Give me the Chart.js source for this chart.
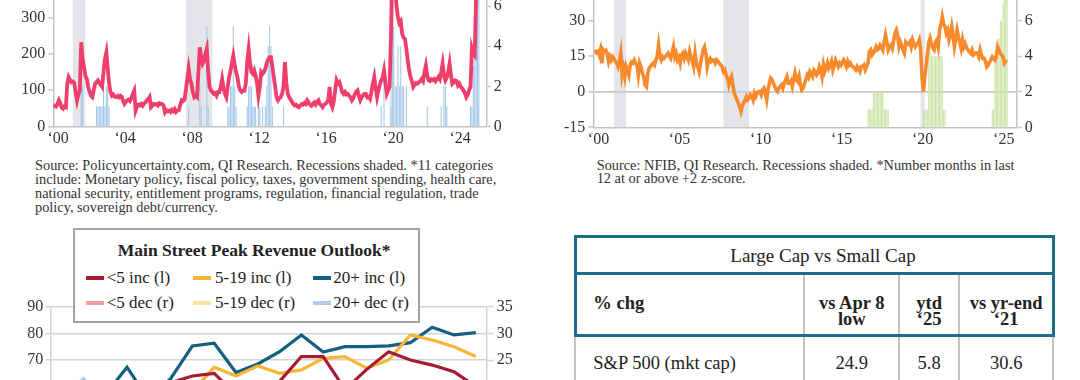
<!DOCTYPE html>
<html><head><meta charset="utf-8">
<script src="https://cdn.jsdelivr.net/npm/chart.js@4.4.1/dist/chart.umd.min.js"></script>
<style>
html,body{margin:0;padding:0;background:#fff;}
body{width:1080px;height:380px;overflow:hidden;position:relative;font-family:"Liberation Serif",serif;color:#262626;}
canvas{position:absolute;}
.t{position:absolute;white-space:nowrap;}
.note{font-size:13.5px;line-height:14px;color:#333;}
#legend{position:absolute;left:73px;top:228.3px;width:347.3px;height:94.4px;box-sizing:border-box;border:2px solid #a3a3a3;background:#fff;z-index:2;}
</style></head><body>
<canvas id="c1" width="540" height="150" style="left:0;top:0"></canvas>
<canvas id="c2" width="540" height="150" style="left:540px;top:0"></canvas>
<canvas id="c3" width="540" height="190" style="left:0;top:290px"></canvas>
<div id="notes"></div>
<div id="legend"></div>
<div id="table"></div>
<script>
// ---------------- DATA ----------------
// Policy uncertainty index, monthly from Jan 2000 (left axis)
const uncValues = [
 53,57,55,62,72,64,52,49,55,53,118,136,
 128,122,124,120,95,72,88,100,232,185,164,140,
 131,109,95,85,81,100,118,122,127,120,115,109,
 150,186,204,160,118,95,85,88,82,81,84,80,
 85,82,70,62,68,72,74,70,78,90,99,44,
 55,60,58,62,57,63,66,72,75,81,53,57,
 62,60,62,58,64,62,62,58,39,45,42,44,
 40,46,42,48,40,44,45,60,72,70,74,100,
 130,159,130,118,95,81,85,81,150,218,190,173,
 180,200,214,150,109,100,95,90,92,85,95,95,
 110,131,105,90,81,110,135,154,175,195,170,150,
 135,110,99,95,99,99,120,180,214,175,150,145,
 154,140,120,85,110,150,145,150,160,175,185,191,
 191,165,136,110,80,72,78,81,90,110,177,120,
 90,81,75,68,62,58,60,55,53,58,62,60,
 65,62,72,66,60,57,62,66,60,68,72,62,
 58,53,60,62,66,72,109,62,53,70,100,127,
 118,122,110,95,90,95,88,90,85,80,72,78,
 88,95,99,85,72,80,86,90,90,80,82,76,
 95,118,136,105,81,100,115,127,135,154,120,90,
 100,109,250,450,420,380,330,300,285,290,255,245,
 241,215,182,155,136,125,109,115,120,118,122,125,
 131,125,150,168,140,127,125,130,128,131,125,130,
 136,130,150,173,140,127,135,150,173,140,118,122,
 127,125,113,118,110,105,99,92,81,88,100,110,
 214,200,195,360,460,440
];
// Number of categories at or above +2 z-score (right axis)
const uncBarDates = ['2001-09','2001-10','2002-08','2002-09','2002-10','2002-11','2002-12','2003-01','2003-02','2003-03','2003-04','2003-05',
 '2008-02','2008-10','2008-11','2009-03','2009-04',
 '2010-06','2010-07','2010-08','2010-09','2010-10','2010-11','2010-12',
 '2011-08','2011-09','2011-10','2011-11','2011-12','2012-01','2012-02','2012-04','2012-05','2012-07','2012-09','2012-10','2012-11','2012-12','2013-01','2013-02','2013-10',
 '2019-08','2019-10',
 '2020-03','2020-04','2020-05','2020-06','2020-07','2020-08','2020-09','2020-10','2020-11','2020-12','2021-02',
 '2022-05','2023-03','2023-05','2023-06','2023-07',
 '2024-12','2025-01','2025-02','2025-03','2025-04','2025-05','2025-06'];
const uncBarValues = [3,2,1,1,1,1,1,2,1,2,2,1,
 1,2,1,5,1,
 1,1,2,2,5,2,1,
 1,2,2,2,1,1,1,1,1,1,1,2,4,5,4,1,1,
 1,3,
 1,7,5,2,2,4,2,4,2,2,2,
 1,1,2,2,1,
 1,1,3,7,8,9,10];

// NFIB series, monthly from Jan 2000 (left axis)
const nfibValues = [
 17.7,16.5,17.0,15.5,17.7,12.0,17.7,17.0,17.5,16.0,12.8,14.8,
 13.4,14.8,14.0,12.8,12.1,10.6,12.8,16.3,7.1,9.9,6.4,10.6,
 9.0,7.1,11.3,12.5,12.1,13.4,12.0,11.3,7.1,12.1,10.6,8.0,
 6.4,2.9,2.2,7.8,9.9,10.6,11.5,12.1,11.3,13.4,15.0,19.7,
 15.0,13.4,14.8,14.1,14.8,15.5,16.3,15.0,14.1,16.5,19.0,14.8,
 16.3,13.4,14.5,12.1,15.5,16.3,14.1,16.3,14.8,13.4,17.0,14.8,
 13.0,10.6,16.3,12.1,10.6,8.5,12.0,14.8,17.7,19.0,16.3,10.6,
 13.4,14.1,12.8,13.4,13.4,12.1,13.4,12.8,12.0,11.3,10.6,8.5,
 9.2,7.0,5.7,2.9,5.0,6.4,2.9,-0.5,-2.0,-3.4,-4.8,-6.2,
 -8.3,-6.0,-4.8,-3.4,-2.0,-3.4,-2.7,-1.3,-1.8,-3.4,-0.6,-2.0,
 -0.6,0.1,0.1,-1.3,0.8,1.5,-0.6,-3.4,0.8,3.5,5.7,5.0,
 3.6,2.2,0.8,0.1,1.5,2.2,2.9,1.5,3.5,5.0,6.4,3.6,
 3.6,4.5,2.2,5.0,7.8,5.0,4.3,6.4,2.9,0.8,1.5,3.6,
 5.0,7.0,6.0,8.5,7.5,6.4,9.2,8.5,7.1,8.0,10.6,9.2,
 6.4,11.3,8.5,10.0,12.1,9.9,11.0,12.8,9.2,11.0,13.4,12.0,
 10.6,12.1,11.3,12.5,13.4,12.0,10.6,12.8,11.3,12.1,11.0,10.5,
 9.9,9.2,10.6,9.5,8.5,10.6,10.6,11.3,9.2,10.5,12.1,16.9,
 17.7,15.5,16.3,17.5,19.0,17.7,18.3,19.7,19.0,17.7,21.0,24.0,
 21.0,17.7,19.0,19.7,18.3,21.5,24.7,26.0,23.5,19.0,21.0,19.5,
 17.7,16.3,21.0,20.3,20.0,21.0,19.0,21.9,20.3,19.0,20.0,20.5,
 21.9,17.7,6.4,0.1,6.0,10.6,16.3,20.5,22.5,20.0,18.5,17.7,
 21.0,21.9,19.0,26.0,28.4,31.7,28.5,27.5,24.7,26.0,21.9,24.0,
 27.5,23.5,19.0,22.5,26.0,23.0,21.0,18.3,21.9,19.0,20.3,18.5,
 17.7,17.0,16.3,17.7,15.5,16.0,16.5,16.3,14.8,17.7,15.5,14.1,
 14.1,12.8,10.6,11.3,12.5,13.5,14.8,14.1,13.4,14.8,19.0,17.7,
 16.3,15.5,14.8,12.1,12.8,12.5
];
// Number months in last 12 at or above +2 z-score (right axis)
const nfibBarDates = ['2016-11','2016-12','2017-01','2017-02','2017-03','2017-04','2017-05','2017-06','2017-07','2017-08','2017-09','2017-10','2017-11','2017-12','2018-01','2018-02',
 '2020-04','2020-05','2020-06','2020-07','2020-08','2020-09','2020-10','2020-11','2020-12','2021-01','2021-02','2021-03','2021-04','2021-05','2021-06','2021-07','2021-08',
 '2024-07','2024-08','2024-09','2024-10','2024-11','2024-12','2025-01','2025-02','2025-03','2025-04','2025-05','2025-06'];
const nfibBarValues = [1,1,1,1,2,2,2,2,2,2,2,2,1,1,1,1,
 1,1,1,1,5,5,4,4,4,4,4,4,4,4,4,1,1,
 1,1,4,4,5,5,6,6,7,8,9,10];

const recessions = [['2001-03','2001-11'],['2007-12','2009-06'],['2020-02','2020-04']];
const uncTickYears = [2000,2004,2008,2012,2016,2020,2024];
const nfibTickYears = [2000,2005,2010,2015,2020,2025];
const uncLeftTicks = [0,100,200,300];
const uncRightTicks = [0,1,2,3,4,5,6];
const nfibLeftTicks = [-15,0,15,30];
const nfibRightTicks = [0,2,4,6];

// Main Street Peak Revenue Outlook
const mainCategories = ["Q3 \u201920","Q4 \u201920","Q1 \u201921","Q2 \u201921","Q3 \u201921","Q4 \u201921","Q1 \u201922","Q2 \u201922","Q3 \u201922","Q4 \u201922",
 "Q1 \u201923","Q2 \u201923","Q3 \u201923","Q4 \u201923","Q1 \u201924","Q2 \u201924","Q3 \u201924","Q4 \u201924","Q1 \u201925","Q2 \u201925"];
const lt5Inc   = [52,55,50,58,54,61.5,64,65,57,58,62,71.3,71.3,59,66.5,73.1,70,68.1,65.6,60];
const mid519Inc= [50,54,52,57,55,56,58,67.3,64,67.8,65,66.3,70.6,71.3,66.9,70,79.4,77.5,75,71.3];
const gt20Inc  = [56,58,57,67.3,55,63,75.3,76.3,65.3,68.5,73.1,79.4,73,75,75,75.3,76.5,82.3,79.4,80.3];
const lt5Dec   = [16,17,15,18,14,13,12,14,16,15,13,12,14,15,13,12,11,12,13,14];
const mid519Dec= [12,13,14,11,12,10,9,10,11,10,9,8,9,10,9,8,7,8,9,10];
const gt20Dec  = [18,21.5,17,14,16,12,10,9,11,10,9,8,10,9,8,9,7,8,9,9];
const mainLeftTicks = [40,50,60,70,80,90];
const mainRightTicks = [10,15,20,25,30,35];
const mainTitle = 'Main Street Peak Revenue Outlook*';
const mainLabels = ['<5 inc (l)','5-19 inc (l)','20+ inc (l)','<5 dec (r)','5-19 dec (r)','20+ dec (r)'];

// Table
const tableTitle = 'Large Cap vs Small Cap';
const tableHead = ['% chg', ['vs Apr 8','low'], ['ytd','\u201825'], ['vs yr-end','\u201821']];
const tableRowLabels = ['S&P 500 (mkt cap)'];
const tableRowValues = [[24.9, 5.8, 30.6]];

const uncNote = ['Source: Policyuncertainty.com, QI Research. Recessions shaded. *11 categories',
 'include: Monetary policy, fiscal policy, taxes, government spending, health care,',
 'national security, entitlement programs, regulation, financial regulation, trade',
 'policy, sovereign debt/currency.'];
const nfibNote = ['Source: NFIB, QI Research. Recessions shaded. *Number months in last',
 '12 at or above +2 z-score.'];

// ---------------- HELPERS ----------------
const ym = s => { const p = s.split('-').map(Number); return (p[0]-2000)*12 + (p[1]-1); };
const yearLabel = y => '\u2018' + String(y).slice(2);
const TF = {family:'Liberation Serif', size:16};
const TC = '#333';
const AX = '#c4c4c4';
Chart.defaults.font.family = 'Liberation Serif';

const recessionPlugin = {
  id:'recessions',
  beforeDraw(chart){
    const a = chart.chartArea, x = chart.scales.x, ctx = chart.ctx;
    ctx.save();
    ctx.beginPath(); ctx.rect(a.left, a.top, a.right-a.left, a.bottom-a.top); ctx.clip();
    ctx.fillStyle = '#e3e5e8';
    recessions.forEach(r => {
      const x0 = x.getPixelForValue(ym(r[0])), x1 = x.getPixelForValue(ym(r[1])+1);
      ctx.fillRect(x0, a.top, x1-x0, a.bottom-a.top);
    });
    ctx.restore();
  }
};
function fitW(w){ return s => { s.width = w; s.paddingTop = 0; s.paddingBottom = 0; }; }
function fitH(h){ return s => { s.height = h; s.paddingLeft = 0; s.paddingRight = 0; }; }
function setTicks(arr){ return s => { s.ticks = arr.map(v => ({value:v})); }; }

function timeChart(id, lineVals, lineColor, barDates, barVals, barColor, cfg){
  return new Chart(document.getElementById(id), {
    type:'bar',
    data:{datasets:[
      {type:'line', label:cfg.lineLabel, data: lineVals.map((v,i)=>({x:i,y:v})), yAxisID:'y',
       borderColor:lineColor, borderWidth:cfg.lwidth, pointRadius:0, tension:0, order:0},
      {type:'bar', label:cfg.barLabel, data: barDates.map((d,i)=>({x:ym(d), y:barVals[i]})), yAxisID:'y1',
       backgroundColor:barColor, barPercentage:0.75, categoryPercentage:1, order:1}
    ]},
    options:{
      responsive:false, animation:false, events:[],
      layout:{padding:0},
      plugins:{legend:{display:false}, tooltip:{enabled:false}},
      scales:{
        x:{type:'linear', min:cfg.xmin, max:cfg.xmax, offset:false,
           grid:{drawOnChartArea:false, drawTicks:false},
           border:{display:true, color:AX, width:1.5},
           afterBuildTicks: s => { s.ticks = cfg.tickYears.map(y => ({value: ym(y+'-01') + cfg.tickShift})); },
           ticks:{font:TF, color:TC, padding:3, maxRotation:0, autoSkip:false, callback:(v,i)=>yearLabel(cfg.tickYears[i])},
           afterFit: fitH(cfg.xh)},
        y:{position:'left', min:cfg.ymin, max:cfg.ymax,
           grid:{drawOnChartArea:cfg.zeroLine, drawTicks:true, tickLength:5, tickColor:AX, tickWidth:1.5,
                 color: c => (cfg.zeroLine && c.tick && c.tick.value === 0) ? '#c8c8c8' : 'rgba(0,0,0,0)', lineWidth:1.8},
           border:{display:true, color:AX, width:1.5},
           afterBuildTicks: setTicks(cfg.leftTicks),
           ticks:{font:TF, color:TC, padding:3},
           afterFit: fitW(cfg.lw)},
        y1:{position:'right', min:0, max:cfg.rmax,
           grid:{drawOnChartArea:false, drawTicks:true, tickLength:cfg.rtl, tickColor:AX, tickWidth:1.5},
           border:{display:true, color:AX, width:1.5},
           afterBuildTicks: setTicks(cfg.rightTicks),
           ticks:{font:TF, color:TC, padding:3},
           afterFit: fitW(cfg.rw)}
      }
    },
    plugins:[recessionPlugin]
  });
}

timeChart('c1', uncValues, '#ee3e6b', uncBarDates, uncBarValues, '#a3c7ea', {
  lineLabel:'Policy uncertainty (l)', barLabel:'Categories at/above +2 z-score (r)', lwidth:3.8,
  xmin:0, xmax:310.6, tickYears:uncTickYears, tickShift:3.5, xh:23.5,
  ymin:0, ymax:348.2, leftTicks:uncLeftTicks, lw:53.3, zeroLine:false,
  rmax:6.3, rightTicks:uncRightTicks, rw:53.3, rtl:4
});
timeChart('c2', nfibValues, '#f68a2d', nfibBarDates, nfibBarValues, '#c9e2a2', {
  lineLabel:'NFIB (l)', barLabel:'Months at/above +2 z-score (r)', lwidth:3.6,
  xmin:-1.33, xmax:312.1, tickYears:nfibTickYears, tickShift:2.5, xh:22.7,
  ymin:-15, ymax:38.74, leftTicks:nfibLeftTicks, lw:53.3, zeroLine:true,
  rmax:7.164, rightTicks:nfibRightTicks, rw:63.3, rtl:5
});

const mainColors = ['#a51c30','#f8b634','#145f7d','#f29c9c','#fce3a0','#b3cbe6'];
const mainSeries = [lt5Inc, mid519Inc, gt20Inc, lt5Dec, mid519Dec, gt20Dec];
const GC = '#d4d4d4';
const c3 = new Chart(document.getElementById('c3'), {
  type:'line',
  data:{labels:mainCategories, datasets: mainSeries.map((d,i)=>({
    label:mainLabels[i], data:d, borderColor:mainColors[i], backgroundColor:mainColors[i],
    borderWidth:3.2, pointRadius:0, tension:0, yAxisID: i<3 ? 'y' : 'y1', order: i<3 ? 0 : 1}))},
  options:{
    responsive:false, animation:false, events:[],
    layout:{padding:{top:16.7, left:0, right:0, bottom:0}},
    plugins:{legend:{display:false}, tooltip:{enabled:false}},
    scales:{
      x:{type:'category', offset:true, grid:{drawOnChartArea:false, drawTicks:false},
         border:{display:true, color:GC, width:1.5},
         ticks:{font:{family:'Liberation Serif', size:14}, color:TC, maxRotation:0, autoSkip:true},
         afterFit: fitH(40)},
      y:{position:'left', min:40, max:90,
         grid:{drawOnChartArea:true, color:GC, lineWidth:1.5, drawTicks:true, tickLength:5, tickColor:GC},
         border:{display:true, color:GC, width:1.5},
         afterBuildTicks: setTicks(mainLeftTicks),
         ticks:{font:TF, color:TC, padding:2.5},
         afterFit: fitW(50.7)},
      y1:{position:'right', min:10, max:35,
         grid:{drawOnChartArea:false, drawTicks:true, tickLength:7, tickColor:GC, tickWidth:1.5},
         border:{display:true, color:GC, width:1.5},
         afterBuildTicks: setTicks(mainRightTicks),
         ticks:{font:TF, color:TC, padding:3},
         afterFit: fitW(53.3)}
    }
  }
});

// ---------------- LEGEND ----------------
const lg = document.getElementById('legend');
function addEl(parent, css, text){
  const d = document.createElement('div');
  d.className = 't';
  d.style.cssText += css;
  if (text !== undefined) d.textContent = text;
  parent.appendChild(d);
  return d;
}
addEl(lg, 'left:179.2px;top:9.5px;transform:translateX(-50%);font-weight:bold;font-size:17.5px;line-height:21px;color:#222;', mainTitle);
const colMarker = [11, 118.3, 238.3], colText = [31.7, 140, 258.3], rowY = [48, 73];
c3.data.datasets.forEach((ds, i) => {
  const r = Math.floor(i/3), c = i % 3;
  addEl(lg, `left:${colMarker[c]}px;top:${rowY[r]-1.8}px;width:17.5px;height:3.6px;background:${ds.borderColor};`);
  addEl(lg, `left:${colText[c]}px;top:${rowY[r]-10}px;font-size:17px;line-height:20px;color:#222;`, ds.label);
});

// ---------------- NOTES ----------------
const notes = document.getElementById('notes');
function noteBlock(lines, left, ys, firstW){
  const els = lines.map((t,i) => addEl(notes, `left:${left}px;top:${ys[i]-7}px;`, t));
  els.forEach(e => e.classList.add('note'));
  const w = els[0].getBoundingClientRect().width;
  const fs = 13.5 * firstW / w;
  els.forEach(e => { e.style.fontSize = fs + 'px'; });
}
noteBlock(uncNote, 35, [165, 179.3, 192.7, 206.7], 458.3);
noteBlock(nfibNote, 596.7, [165, 178.3], 418.3);

// ---------------- TABLE ----------------
const T = document.getElementById('table');
const teal = '#1d6d8c', gray = '#c4c4c4';
const colSep = [804.3, 899.3, 959];
colSep.forEach(x => addEl(T, `left:${x-1}px;top:274px;width:2px;height:110px;background:${gray};`));
addEl(T, `left:574px;top:336px;width:2px;height:50px;background:${gray};`);
addEl(T, `left:1052.3px;top:336px;width:2px;height:50px;background:${gray};`);
[235.2, 271.8, 333.5].forEach(y => addEl(T, `left:573.5px;top:${y}px;width:481.3px;height:3px;background:${teal};`));
[573.5, 1051.8].forEach(x => addEl(T, `left:${x}px;top:235.2px;width:3px;height:101.3px;background:${teal};`));
addEl(T, 'left:823px;top:244.5px;transform:translateX(-50%);font-size:19px;line-height:21px;color:#222;', tableTitle);
addEl(T, 'left:593.3px;top:292.8px;font-weight:bold;font-size:18.5px;line-height:21px;color:#222;', tableHead[0]);
const colCenters = [851.8, 929.1, 1006.2];
tableHead.slice(1).forEach((h, i) => {
  const d = addEl(T, `left:${colCenters[i]}px;top:294.8px;transform:translateX(-50%);font-weight:bold;font-size:18.5px;line-height:16px;text-align:center;color:#222;`);
  d.innerHTML = h.map(s => s.replace(/&/g,'&amp;').replace(/</g,'&lt;')).join('<br>');
});
tableRowLabels.forEach((lab, r) => {
  const cy = 363.3 + r*40;
  addEl(T, `left:593.3px;top:${cy-10.5}px;font-size:18.5px;line-height:21px;color:#222;`, lab);
  tableRowValues[r].forEach((v, i) => addEl(T, `left:${colCenters[i]}px;top:${cy-10.5}px;transform:translateX(-50%);font-size:18.5px;line-height:21px;color:#222;`, v.toFixed(1)));
});
</script>
</body></html>
